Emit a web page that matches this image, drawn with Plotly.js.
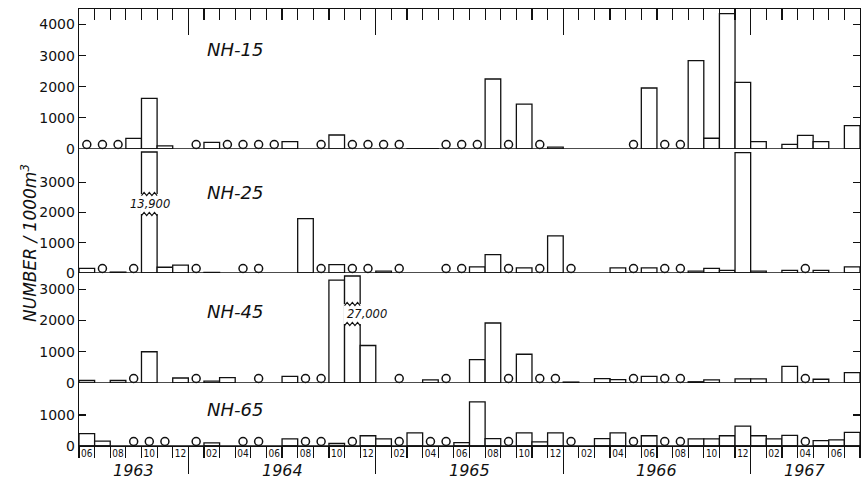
<!DOCTYPE html>
<html><head><meta charset="utf-8">
<script src="https://cdn.plot.ly/plotly-3.0.1.min.js"></script>
<style>html,body{margin:0;padding:0;background:#fff}</style>
</head><body><div id="chart" style="width:862px;height:480px"></div>
<script>
// Monthly samples, June 1963 (index 0) .. July 1967 (index 49)
// null = no sample, 0 = sampled, none found (open circle)
const stations = ['NH-15', 'NH-25', 'NH-45', 'NH-65'];
const nh15 = [0,0,0,340,1630,100,null,0,215,0, 0,0,0,235,null,0,450,0,0,0, 0,10,10,0,0,0,2250,0,1440,0, 60,null,null,null,null,0,1960,0,0,2840, 345,4350,2140,235,null,150,440,235,null,750];
const nh25 = [150,0,30,0,13900,190,260,0,20,null, 0,0,null,null,1800,0,280,0,0,60, 0,null,null,0,0,200,610,0,170,0, 1230,0,null,null,170,0,170,0,0,60, 150,90,3980,60,null,90,0,90,null,200];
const nh45 = [80,null,80,0,1000,null,160,0,60,175, null,0,null,215,0,0,3290,27000,1200,null, 0,null,100,0,null,750,1920,0,920,0, 0,30,null,140,110,0,215,0,0,40, 100,null,130,130,null,530,0,120,null,330];
const nh65 = [400,160,null,0,0,0,null,0,100,null, 0,0,null,230,0,0,80,0,330,230, 0,420,0,0,110,1420,240,0,420,130, 420,0,null,240,420,0,330,0,0,230, 230,330,640,330,230,340,0,170,200,440];
const seriesValues = [nh15, nh25, nh45, nh65];

const yTickValues = [[0,1000,2000,3000,4000],[0,1000,2000,3000],[0,1000,2000,3000],[0,1000]];
const monthTickText = ['06','08','10','12','02','04','06','08','10','12','02','04','06','08','10','12','02','04','06','08','10','12','02','04','06'];
const years = ['1963','1964','1965','1966','1967'];
const yearStart = [0, 7, 19, 31, 43];   // month index where each year's span begins
const yearEnd = [7, 19, 31, 43, 50];
const brokenBars = [
  {station: 1, month: 4, label: '13,900'},
  {station: 2, month: 17, label: '27,000'}
];

// ---- layout geometry ----
const W = 862, H = 480;
const M = {l: 79, r: 2, t: 9, b: 34};
const plotH = H - M.t - M.b;
const panelPx = [140, 124, 110, 63];
const yMax = [4500, 4100, 3520, 2030];
const nMonths = 50;
const labelPxFromTop = [40, 43, 38, 26];
const breakPx = [[79, 59], [79, 59]]; // hi/lo break, px above zero line
const ink = '#111';

const domains = [];
let panelTop = plotH;
panelPx.forEach(p => { domains.push([Math.max(0, (panelTop - p) / plotH), panelTop / plotH]); panelTop -= p; });

const monthBounds = [];
for (let i = 0; i <= nMonths; i++) monthBounds.push(i);
const evenCenters = monthTickText.map((_, j) => 2 * j + 0.5);

const traces = [];
const shapes = [];
const annotations = [];

seriesValues.forEach((vals, k) => {
  const ya = k === 0 ? 'y' : 'y' + (k + 1);
  const unitPerPx = yMax[k] / panelPx[k];
  const bx = [], by = [], cx = [], cy = [];
  vals.forEach((v, i) => {
    if (v === null) return;
    if (v === 0) { cx.push(i + 0.5); cy.push(4.5 * unitPerPx); return; }
    bx.push(i + 0.5);
    by.push(Math.min(v, yMax[k] - 3 * unitPerPx));
  });
  traces.push({type: 'bar', x: bx, y: by, width: 1, xaxis: 'x', yaxis: ya,
    marker: {color: 'white', line: {color: ink, width: 1.3}}, hoverinfo: 'skip'});
  traces.push({type: 'scatter', mode: 'markers', x: cx, y: cy, xaxis: 'x', yaxis: ya, cliponaxis: false,
    marker: {symbol: 'circle-open', size: 8, color: ink, line: {width: 1.5, color: ink}}, hoverinfo: 'skip'});
  shapes.push({type: 'line', xref: 'paper', yref: ya, x0: 0, x1: 1, y0: 0, y1: 0, line: {color: ink, width: 1.3}});
  annotations.push({xref: 'paper', yref: ya + ' domain', x: (205 - M.l) / (W - M.l - M.r), xanchor: 'left',
    y: 1 - labelPxFromTop[k] / panelPx[k], yanchor: 'middle', text: stations[k], showarrow: false,
    font: {family: 'DejaVu Sans', size: 18, style: 'italic', color: ink}});
});
// empty carrier traces so the overlay axes (top frame ticks, month labels) get drawn
traces.push({type: 'scatter', mode: 'markers', x: [], y: [], xaxis: 'x2', yaxis: 'y', hoverinfo: 'skip'});
traces.push({type: 'scatter', mode: 'markers', x: [], y: [], xaxis: 'x3', yaxis: 'y4', hoverinfo: 'skip'});

brokenBars.forEach((b, n) => {
  const k = b.station;
  const ya = 'y' + (k + 1);
  const u = yMax[k] / panelPx[k];
  const hi = breakPx[n][0] * u, lo = breakPx[n][1] * u;
  shapes.push({type: 'rect', xref: 'x', yref: ya, x0: b.month - 0.08, x1: b.month + 1.08, y0: lo, y1: hi,
    fillcolor: 'white', line: {width: 0}, layer: 'above'});
  [hi, lo].forEach(yy => {
    let p = '';
    for (let j = 0; j <= 6; j++) {
      const xx = b.month + j / 6;
      const y2 = yy + (j % 2 ? 1.6 : -1.6) * u;
      p += (j ? ' L ' : 'M ') + xx + ',' + y2;
    }
    shapes.push({type: 'path', xref: 'x', yref: ya, path: p, line: {color: ink, width: 1.2}, layer: 'above'});
  });
  annotations.push({xref: 'x', yref: ya, x: n === 0 ? b.month + 0.55 : b.month, xanchor: n === 0 ? 'center' : 'left',
    y: (hi + lo) / 2, yanchor: 'middle', text: b.label, showarrow: false,
    font: {family: 'DejaVu Sans', size: 11.5, style: 'italic', color: ink}});
});

years.forEach((yr, j) => {
  annotations.push({xref: 'x', yref: 'paper', x: (yearStart[j] + yearEnd[j]) / 2, y: -25 / plotH, yanchor: 'middle',
    text: yr, showarrow: false, font: {family: 'DejaVu Sans', size: 16, style: 'italic', color: ink}});
});

annotations.push({xref: 'paper', yref: 'paper', x: (29 - M.l) / (W - M.l - M.r), y: (plotH - (243 - M.t)) / plotH,
  xanchor: 'center', yanchor: 'middle', textangle: -90, text: 'NUMBER / 1000m<sup>3</sup>', showarrow: false,
  font: {family: 'DejaVu Sans', size: 17, style: 'italic', color: ink}});

const layout = {
  width: W, height: H, margin: M, paper_bgcolor: 'white', plot_bgcolor: 'white',
  showlegend: false, bargap: 0, barmode: 'overlay',
  font: {family: 'DejaVu Sans', color: ink},
  xaxis: {domain: [0, 1], range: [0, nMonths], anchor: 'y4', showline: true, linecolor: ink, linewidth: 1.3,
    ticks: 'outside', tickvals: yearStart.slice(1), ticklen: 27, tickwidth: 1.4, tickcolor: ink,
    showticklabels: false, showgrid: false, zeroline: false,
    minor: {tickvals: monthBounds, ticks: 'outside', ticklen: 11, tickwidth: 1.2, tickcolor: ink, showgrid: false}},
  xaxis2: {overlaying: 'x', anchor: 'y', side: 'top', range: [0, nMonths], showline: true, linecolor: ink, linewidth: 1.3,
    ticks: 'inside', tickvals: yearStart.slice(1), ticklen: 26, tickwidth: 1.4, tickcolor: ink,
    showticklabels: false, showgrid: false, zeroline: false,
    minor: {tickvals: monthBounds, ticks: 'inside', ticklen: 11, tickwidth: 1.2, tickcolor: ink, showgrid: false}},
  xaxis3: {overlaying: 'x', anchor: 'y4', side: 'bottom', range: [0, nMonths], showline: false, ticks: '',
    tickvals: evenCenters, ticktext: monthTickText, showgrid: false, zeroline: false,
    tickfont: {family: 'Liberation Sans Narrow, DejaVu Sans Condensed, sans-serif', size: 10, color: ink}},
  annotations: annotations,
  shapes: shapes
};
for (let k = 0; k < 4; k++) {
  const key = k === 0 ? 'yaxis' : 'yaxis' + (k + 1);
  layout[key] = {domain: domains[k], range: [0, yMax[k]], anchor: 'x', showline: true, mirror: 'ticks',
    linecolor: ink, linewidth: 1.3, ticks: 'inside', ticklen: 7, tickwidth: 1.2, tickcolor: ink,
    tickvals: yTickValues[k], ticktext: yTickValues[k].map(String), showgrid: false, zeroline: false,
    tickfont: {family: 'DejaVu Sans', size: 14, color: ink}};
}

Plotly.newPlot('chart', traces, layout, {staticPlot: true, displayModeBar: false});
</script></body></html>
